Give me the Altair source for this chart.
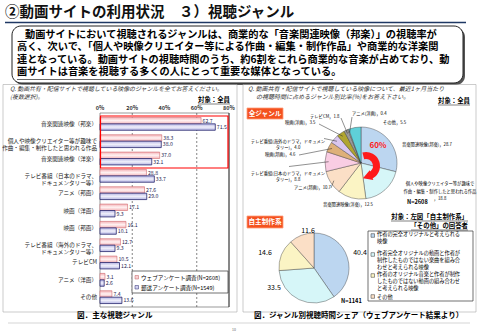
import math
import altair as alt
import pandas as pd

FONT = "Noto Sans CJK JP"

# ------------------------------------------------------------------ data
title_text = "②動画サイトの利用状況　３）視聴ジャンル"
summary_lines = [
    "動画サイトにおいて視聴されるジャンルは、商業的な「音楽関連映像（邦楽）」の視聴率が",
    "高く、次いで、「個人や映像クリエイター等による作曲・編集・制作作品」や商業的な洋楽関",
    "連となっている。動画サイトの視聴時間のうち、約6割をこれら商業的な音楽が占めており、動",
    "画サイトは音楽を視聴する多くの人にとって重要な媒体となっている。",
]

bar_categories = [
    "音楽関連映像（邦楽）",
    "個人や映像クリエイター等が趣味で\n作曲・編集・制作したと思われる作品",
    "音楽関連映像（洋楽）",
    "テレビ番組（日本のドラマ、\nドキュメンタリー等）",
    "アニメ（邦画）",
    "映画（洋画）",
    "映画（邦画）",
    "テレビ番組（海外のドラマ、\nドキュメンタリー等）",
    "テレビCM",
    "アニメ（洋画）",
    "その他",
]
web_values = [62.7, 38.3, 37.0, 28.8, 27.6, 17.1, 16.1, 12.7, 10.5, 3.1, 7.4]
mail_values = [71.5, 38.0, 32.1, 33.7, 29.0, 9.3, 10.1, 9.3, 12.1, 2.6, 13.6]
series_names = ["ウェブアンケート調査(N=2608)", "郵送アンケート調査(N=1549)"]
x_tick_values = [0, 20, 40, 60, 80]
x_tick_labels = ["0%", "20%", "40%", "60%", "80%"]
grid_values = [20, 60]

all_genres = [
    "音楽関連映像(邦楽)",
    "個人や映像クリエイター等が趣味で\n作曲・編集・制作したと思われる作品\n",
    "音楽関連映像(洋楽)",
    "アニメ(邦画)",
    "テレビ番組(日本のドラマ，ドキュメン\nタリー)",
    "映画(邦画)",
    "テレビ番組(海外のドラマ，ドキュメン\nタリー)",
    "映画(洋画)",
    "テレビCM",
    "アニメ(洋画)",
    "その他",
]
all_values = [28.7, 18.8, 12.5, 10.7, 8.8, 4.6, 4.0, 3.5, 1.8, 0.4, 5.5]
all_n = "N=2608"

self_types = [
    "作者の完全オリジナルと考えられる\n映像",
    "作者完全オリジナルの動画と作者が\n制作したものではない楽曲を組み合\nわせと考えられる映像",
    "作者のオリジナル音楽と作者が制作\nしたものではない動画の組み合わせ\nと考えられる映像",
    "その他",
]
self_values = [40.4, 33.5, 14.6, 11.6]
self_n = "N=1141"

# ------------------------------------------------------------------ styles
all_colors = ["#bcd6f0", "#d6f6f8", "#fbf4c4", "#fbdfc6", "#f9cde3", "#deb07a",
              "#d9c6ef", "#b0a530", "#9a9a9a", "#d4d4d4", "#5fd0d8"]
self_colors = ["#bcd6f0", "#d6f6f8", "#fbf4c4", "#fbdfc6"]
web_fill = alt.LinearGradient(gradient="linear", x1=0, x2=0, y1=0, y2=1, stops=[
    alt.GradientStop(color="#f4b4b8", offset=0),
    alt.GradientStop(color="#fff2f2", offset=0.5),
    alt.GradientStop(color="#f4b4b8", offset=1)])
mail_fill = alt.LinearGradient(gradient="linear", x1=0, x2=0, y1=0, y2=1, stops=[
    alt.GradientStop(color="#b4b4e4", offset=0),
    alt.GradientStop(color="#f0f0fa", offset=0.5),
    alt.GradientStop(color="#b4b4e4", offset=1)])
RED = "#ff1a1a"
TAG = "#f4511e"

one = pd.DataFrame({"k": [0]})


def text_at(s, x, y, size, align="left", weight="normal", color="#000000",
            style="normal", baseline="middle", line_height=None):
    kw = dict(text=s, align=align, baseline=baseline, fontSize=size,
              fontWeight=weight, fontStyle=style, color=color, font=FONT)
    if "\n" in s:
        kw["lineBreak"] = "\n"
        if line_height:
            kw["lineHeight"] = line_height
    return alt.Chart(one).mark_text(**kw).encode(x=alt.value(x), y=alt.value(y))


def seg(x1, y1, x2, y2, color="#000000", width=0.6, dash=None):
    kw = dict(color=color, strokeWidth=width)
    if dash:
        kw["strokeDash"] = dash
    return alt.Chart(one).mark_rule(**kw).encode(
        x=alt.value(x1), y=alt.value(y1), x2=alt.value(x2), y2=alt.value(y2))


def box(x1, y1, x2, y2, fill="transparent", stroke=None, width=0.6, radius=0):
    kw = dict(fill=fill, cornerRadius=radius)
    if stroke:
        kw.update(stroke=stroke, strokeWidth=width)
    return alt.Chart(one).mark_rect(**kw).encode(
        x=alt.value(x1), x2=alt.value(x2), y=alt.value(y1), y2=alt.value(y2))


layers = []

# ---------------------------------------------------------------- header
layers.append(text_at(title_text, 5, 13, 14.5, weight="bold", color="#111111"))
layers.append(seg(5, 22.5, 466, 22.5, color="#1f3864", width=1.6))
layers.append(box(14, 28, 465, 85, fill="#555555", radius=9))
layers.append(box(12, 26, 463, 83, fill="#ffffff", stroke="#222222", width=1, radius=9))
layers.append(text_at(summary_lines[0], 25, 34.8, 10.2, weight="bold"))
layers.append(text_at("\n".join(summary_lines[1:]), 17, 47.4, 10.2, weight="bold", line_height=12.5))
layers.append(seg(17, 79.5, 333, 79.5, width=0.6))

# ---------------------------------------------------------------- panels
layers.append(box(3, 84.5, 237, 312, stroke="#aaaaaa", width=0.6))
layers.append(box(243, 84.5, 476, 312, stroke="#aaaaaa", width=0.6))
layers.append(seg(8, 323, 470, 323, color="#bbbbbb", width=0.6))
layers.append(text_at("10", 232, 330, 3.5, color="#666666"))

# left question
layers.append(text_at("Q. 動画共有・配信サイトで視聴している映像のジャンルを全てお答えください。",
                      10, 89, 5.9, style="italic", color="#333333"))
layers.append(text_at("(複数選択)。", 10, 96.5, 5.9, style="italic", color="#333333"))
layers.append(text_at("対象：全員", 230, 100, 6.4, align="right", weight="bold"))
layers.append(seg(198, 104, 230, 104, width=0.5))

# ---------------------------------------------------------------- bar chart
bar_rows = []
for i, c in enumerate(bar_categories):
    bar_rows.append({"cat": c, "series": series_names[0], "value": web_values[i]})
    bar_rows.append({"cat": c, "series": series_names[1], "value": mail_values[i]})
bar_df = pd.DataFrame(bar_rows)

X_SCALE = alt.Scale(domain=[0, 80], range=[100, 229], nice=False)
Y_SCALE = alt.Scale(domain=bar_categories, range=[115, 306], paddingInner=0.26, paddingOuter=0.14)
YO_SCALE = alt.Scale(domain=series_names)

bar_enc = dict(
    x=alt.X("value:Q", scale=X_SCALE, axis=None),
    y=alt.Y("cat:N", scale=Y_SCALE, axis=None),
    yOffset=alt.YOffset("series:N", scale=YO_SCALE),
)

layers.append(box(100, 113, 229, 307, fill="#ffffff", stroke="#555555", width=0.6))
grid_df = pd.DataFrame({"g": grid_values})
layers.append(alt.Chart(grid_df).mark_rule(color="#333333", strokeWidth=0.6, strokeDash=[2, 2]).encode(
    x=alt.X("g:Q", scale=X_SCALE, axis=None), y=alt.value(113), y2=alt.value(307)))
layers.append(seg(229, 113, 229, 307, color="#333333", width=0.9))

layers.append(alt.Chart(bar_df).transform_filter(alt.datum.series == series_names[0]).mark_bar(
    fill=web_fill, stroke="#d06a6e", strokeWidth=0.6).encode(**bar_enc))
layers.append(alt.Chart(bar_df).transform_filter(alt.datum.series == series_names[1]).mark_bar(
    fill=mail_fill, stroke="#2a2a6e", strokeWidth=0.8).encode(**bar_enc))
layers.append(alt.Chart(bar_df).mark_text(align="left", dx=1.5, fontSize=5.2, color="#1c1c50",
                                          font=FONT).encode(
    **bar_enc, text=alt.Text("value:Q", format=".1f")))

cat_df = pd.DataFrame({"cat": bar_categories})
layers.append(alt.Chart(cat_df).mark_text(align="right", baseline="middle", lineBreak="\n",
                                          lineHeight=7.2, fontSize=5.6, color="#222222",
                                          font=FONT).encode(
    y=alt.Y("cat:N", scale=Y_SCALE, axis=None), x=alt.value(97), text="cat:N"))

tick_df = pd.DataFrame({"v": x_tick_values, "lab": x_tick_labels})
layers.append(alt.Chart(tick_df).mark_text(fontSize=5.5, fontWeight="bold", color="#333333",
                                           font=FONT).encode(
    x=alt.X("v:Q", scale=X_SCALE, axis=None), y=alt.value(108), text="lab:N"))

layers.append(box(100.5, 116, 228, 168, stroke="#ff0000", width=1.2))

# bar legend
layers.append(box(132, 271, 228, 293, fill="#ffffff", stroke="#333333", width=0.7))
layers.append(box(135, 275.5, 138.5, 279, fill="#f8d0d2", stroke="#c06060", width=0.5))
layers.append(box(135, 285.5, 138.5, 289, fill="#d0d0f0", stroke="#2a2a6e", width=0.5))
layers.append(text_at(series_names[0], 141, 277.5, 5.6))
layers.append(text_at(series_names[1], 141, 287.5, 5.6))
layers.append(text_at("図．主な視聴ジャンル", 77, 316, 7.6, weight="bold"))

# ---------------------------------------------------------------- right panel
layers.append(text_at("Q. 動画共有・配信サイトで視聴している映像について、最近1ヶ月当たり",
                      248, 89, 6.0, style="italic", color="#333333"))
layers.append(text_at("の視聴時間に占めるジャンル別比率(%)をお答え下さい。",
                      256, 96.5, 6.0, style="italic", color="#333333"))
layers.append(text_at("対象：全員", 470, 101, 6.4, align="right", weight="bold"))
layers.append(seg(438, 105, 470, 105, width=0.5))

layers.append(box(247, 108, 283, 119, fill=TAG, stroke="#ff9c7a", width=0.8))
layers.append(text_at("全ジャンル", 265, 113.7, 6.6, align="center", weight="bold", color="#ffffff"))

# pie 1
CX1, CY1, R1 = 361, 163, 36
pie1_df = pd.DataFrame({"genre": [g.replace("\n", "") for g in all_genres],
                        "value": all_values, "idx": list(range(len(all_values))),
                        "col": all_colors})
layers.append(alt.Chart(pie1_df).mark_arc(radius=R1, stroke="#333333", strokeWidth=0.4).encode(
    theta=alt.Theta("value:Q", stack=True), order=alt.Order("idx:Q"),
    fill=alt.Fill("col:N", scale=None), x=alt.value(CX1), y=alt.value(CY1)))

tot1 = sum(all_values)
mids = []
cum = 0.0
for v in all_values:
    mids.append((cum + v / 2) / tot1 * 2 * math.pi)
    cum += v


def edge(i, rr=R1 * 0.9):
    return CX1 + rr * math.sin(mids[i]), CY1 - rr * math.cos(mids[i])


def lab(i):
    return f"{all_genres[i]}，{all_values[i]}"


leaders = [(8, 341, 118), (9, 352, 117), (7, 319, 124), (6, 324, 138.5),
           (5, 299, 155), (4, 289, 166.5), (3, 331, 188)]
for i, lx, ly in leaders:
    ex, ey = edge(i)
    layers.append(seg(lx, ly, ex, ey, color="#222222", width=0.5))

PL = 4.3
layers.append(text_at(lab(0), 402, 145, PL))
layers.append(text_at(lab(1), 440, 184, PL, align="center", line_height=7.6))
layers.append(text_at(lab(2), 323, 205, PL))
layers.append(text_at(lab(3), 331, 188, PL, align="right"))
layers.append(text_at(lab(4), 288, 173.5, PL, align="center", line_height=6.6))
layers.append(text_at(lab(5), 265, 155, PL))
layers.append(text_at(lab(6), 288, 141.5, PL, align="center", line_height=6.6))
layers.append(text_at(lab(7), 285, 123, PL))
layers.append(text_at(lab(8), 310, 117, PL))
layers.append(text_at(lab(9), 352, 114, PL))
layers.append(text_at(lab(10), 383, 123, PL))
layers.append(text_at(all_n, 407, 202, 5.6, weight="bold"))

# 60% arrow
ACX, ACY = 366, 166
a_start, a_end = math.radians(345), math.radians(160) + 2 * math.pi
layers.append(alt.Chart(one).mark_arc(innerRadius=7, outerRadius=14, fill=RED).encode(
    theta=alt.value(a_start), theta2=alt.value(a_end), x=alt.value(ACX), y=alt.value(ACY)))
rm = 10.5
hx = ACX + rm * math.sin(a_end) + 2.5 * math.cos(a_end)
hy = ACY - rm * math.cos(a_end) + 2.5 * math.sin(a_end)
head_angle = (math.degrees(a_end) + 90) % 360
layers.append(alt.Chart(one).mark_point(shape="triangle-up", filled=True, size=110, color=RED,
                                        opacity=1, angle=head_angle).encode(
    x=alt.value(hx), y=alt.value(hy)))
layers.append(text_at("60%", 378, 146, 8, align="center", weight="bold", color=RED))

# self-made section
layers.append(box(247, 216, 283, 228, fill=TAG, stroke="#ff9c7a", width=0.8))
layers.append(text_at("自主制作系", 265, 222, 6.6, align="center", weight="bold", color="#ffffff"))
layers.append(text_at("対象：左図「自主制作系」", 468, 217, 6.4, align="right", weight="bold"))
layers.append(seg(391, 221, 468, 221, width=0.5))
layers.append(text_at("「その他」の回答者", 468, 226, 6.4, align="right", weight="bold"))
layers.append(seg(411, 230, 468, 230, width=0.5))

CX2, CY2, R2 = 314, 268, 35
pie2_df = pd.DataFrame({"type": [t.replace("\n", "") for t in self_types], "value": self_values,
                        "idx": list(range(len(self_values))), "col": self_colors})
layers.append(alt.Chart(pie2_df).mark_arc(radius=R2, stroke="#333333", strokeWidth=0.4).encode(
    theta=alt.Theta("value:Q", stack=True), order=alt.Order("idx:Q"),
    fill=alt.Fill("col:N", scale=None), x=alt.value(CX2), y=alt.value(CY2)))
layers.append(text_at(f"{self_values[0]}", 360, 253, 7, align="center"))
layers.append(text_at(f"{self_values[1]}", 274, 288, 7, align="center"))
layers.append(text_at(f"{self_values[2]}", 265, 253, 7, align="center"))
layers.append(text_at(f"{self_values[3]}", 308, 231, 7, align="center"))
layers.append(text_at(self_n, 341, 301, 5.6, weight="bold"))

# legend 2
layers.append(box(368, 231, 473, 301, fill="#ffffff", stroke="#333333", width=0.7))
leg_y = [235.5, 254.5, 275.5, 296.5]
for i, t in enumerate(self_types):
    layers.append(box(371, leg_y[i] - 1.8, 374.5, leg_y[i] + 1.8, fill=self_colors[i],
                      stroke="#333333", width=0.5))
    if "\n" in t:
        layers.append(text_at(t, 377, leg_y[i] - 3.2, 5.2, baseline="top", line_height=7))
    else:
        layers.append(text_at(t, 377, leg_y[i], 5.2))
layers.append(text_at("図．ジャンル別視聴時間シェア（ウェブアンケート結果より）", 254, 316, 7.5,
                      weight="bold"))

chart = alt.layer(*layers).resolve_scale(theta="independent").properties(
    width=480, height=333, padding=0,
    autosize=alt.AutoSizeParams(type="none"), background="#ffffff",
).configure_view(stroke="transparent")

chart.save("out.html", embed_options={"renderer": "svg", "actions": False})
